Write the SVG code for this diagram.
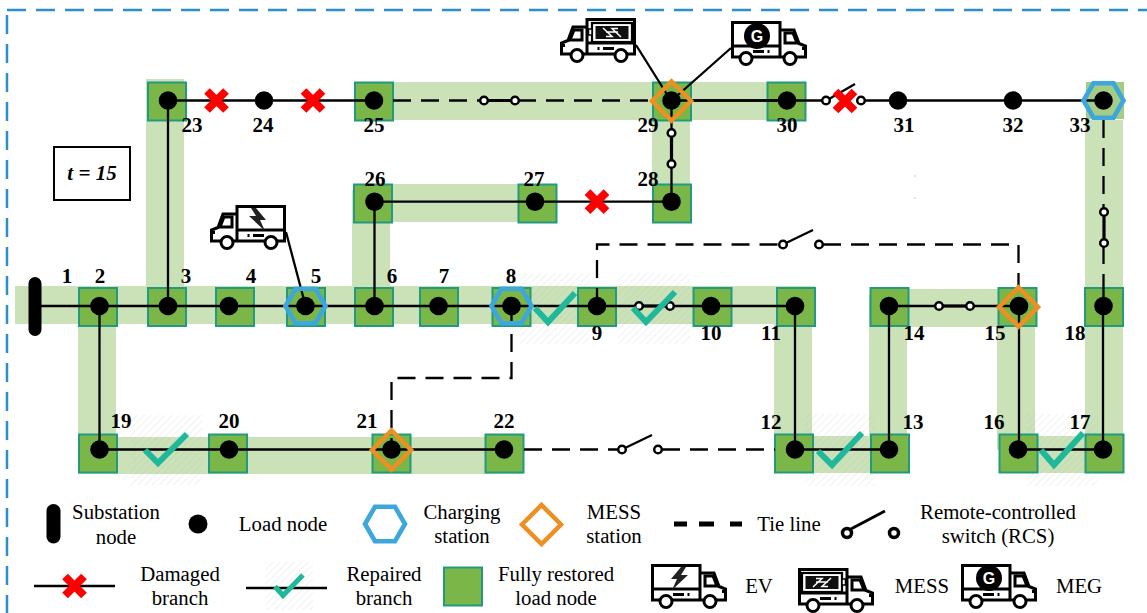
<svg xmlns="http://www.w3.org/2000/svg" width="1147" height="613" viewBox="0 0 1147 613">
<style>
.band{fill:#cbe2b8}
.sq{fill:#7ab648;stroke:#219a7f;stroke-width:2}
.dot{fill:#000}
.ln{fill:none;stroke:#000;stroke-width:2.3}
.thick{fill:none;stroke:#000;stroke-width:3.2}
.dash{fill:none;stroke:#000;stroke-width:2.3;stroke-dasharray:18 10}
.sw{fill:#fff;stroke:#000;stroke-width:2.5}
.hex{fill:none;stroke:#3ca7dd;stroke-width:4.6}
.dia{fill:none;stroke:#ee8f22;stroke-width:4.5}
.x{fill:none;stroke:#f00;stroke-width:8}
.ck{fill:none;stroke:#1fb89a;stroke-width:6}
.num{font:bold 21px "Liberation Serif",serif;text-anchor:middle;fill:#000}
.leg{font:20.8px "Liberation Serif",serif;text-anchor:middle;fill:#000}
.tk{fill:none;stroke:#000;stroke-width:3}
</style>
<defs>
<pattern id="hatch" width="5" height="5" patternUnits="userSpaceOnUse" patternTransform="rotate(45)"><rect width="5" height="5" fill="#fff" fill-opacity="0"/><line x1="0" y1="0" x2="0" y2="5" stroke="#a8a8a8" stroke-opacity=".22" stroke-width="1.5"/></pattern>
<g id="truck">
<rect x="1.5" y="1.5" width="47.5" height="34" fill="#fff" stroke="none"/>
<path class="tk" d="M1.5 25V1.5H49V36M1.5 25H49M1.5 25V36H9M21 36H53M65 36H74.5V25L68 22.5L63 9H49"/>
<path class="tk" d="M54 12V22H66L62 12Z"/>
<path class="tk" d="M22 30.5H33M36.5 30.5H38.5M71 27.5H75"/>
<circle class="tk" cx="15" cy="37.5" r="6" style="fill:#fff"/>
<circle class="tk" cx="59" cy="37.5" r="6" style="fill:#fff"/>
</g>
<path id="ev-icon" d="M30 3L20 15H26L21 26L37 11H30L35 3Z" fill="#222"/>
<g id="mess-icon">
<rect x="4" y="5" width="40" height="19" fill="#fff" stroke="#000" stroke-width="2.2"/>
<rect x="7.500" y="8" width="33" height="13" fill="#111"/>
<path d="M15 19L24 10.500H18M33 10L24 18.500H30M18 14H30" fill="none" stroke="#fff" stroke-width="1.5"/>
<rect x="44" y="11" width="3.5" height="6" fill="#fff" stroke="#000" stroke-width="1.5"/>
</g>
<path id="hexa" d="M-20 0L-10-17.200H10L20 0L10 17.200H-10Z"/>
<path id="diam" d="M-19.500 0L0-19.500L19.500 0L0 19.500Z"/>
<path id="cross" d="M-9.500-9.500L9.500 9.500M9.500-9.500L-9.500 9.500"/>
</defs>

<rect x="7" y="10" width="1300" height="800" fill="none" stroke="#2b8fc9" stroke-width="2.500" stroke-dasharray="19 10"/>

<g id="bands">
<rect class="band" x="15" y="286" width="800" height="38"/>
<rect class="band" x="146" y="79" width="38" height="220"/>
<rect class="band" x="352" y="190" width="38" height="100"/>
<rect class="band" x="353" y="184" width="204" height="38"/>
<rect class="band" x="355" y="82" width="450" height="38"/>
<rect class="band" x="652" y="100" width="38" height="110"/>
<rect class="band" x="78" y="310" width="38" height="140"/>
<rect class="band" x="78" y="437" width="446" height="37"/>
<rect class="band" x="774" y="310" width="38" height="140"/>
<rect class="band" x="775" y="436" width="134" height="37"/>
<rect class="band" x="869" y="295" width="38" height="150"/>
<rect class="band" x="880" y="289" width="150" height="38"/>
<rect class="band" x="997" y="310" width="38" height="140"/>
<rect class="band" x="999" y="436" width="125" height="37"/>
<rect class="band" x="1085" y="120" width="38" height="320"/>
</g>

<g id="hatching" fill="url(#hatch)">
<rect x="520" y="273" width="70" height="71"/>
<rect x="618" y="273" width="72" height="71"/>
<rect x="131" y="415" width="71" height="70"/>
<rect x="805" y="414" width="70" height="72"/>
<rect x="1027" y="414" width="70" height="72"/>
<rect x="265" y="562" width="48" height="48"/>
</g>

<g id="squares">
<rect class="sq" x="79" y="288" width="38" height="38"/>
<rect class="sq" x="148" y="288" width="38" height="38"/>
<rect class="sq" x="216" y="288" width="38" height="38"/>
<rect class="sq" x="287" y="288" width="38" height="38"/>
<rect class="sq" x="355" y="288" width="38" height="38"/>
<rect class="sq" x="420" y="288" width="38" height="38"/>
<rect class="sq" x="492.500" y="288" width="38" height="38"/>
<rect class="sq" x="578" y="288" width="38" height="38"/>
<rect class="sq" x="693.500" y="288" width="38" height="38"/>
<rect class="sq" x="777" y="288" width="38" height="38"/>
<rect class="sq" x="870.500" y="288" width="38" height="38"/>
<rect class="sq" x="998.500" y="288" width="38" height="38"/>
<rect class="sq" x="1085" y="288" width="38" height="38"/>
<rect class="sq" x="79" y="434.500" width="38" height="38"/>
<rect class="sq" x="209" y="434.500" width="38" height="38"/>
<rect class="sq" x="372.500" y="434.500" width="38" height="38"/>
<rect class="sq" x="485.500" y="434.500" width="38" height="38"/>
<rect class="sq" x="775" y="434.500" width="38" height="38"/>
<rect class="sq" x="871" y="434.500" width="38" height="38"/>
<rect class="sq" x="999.500" y="434.500" width="38" height="38"/>
<rect class="sq" x="1085.500" y="434.500" width="38" height="38"/>
<rect class="sq" x="148" y="82.500" width="38" height="38"/>
<rect class="sq" x="355" y="82.500" width="38" height="38"/>
<rect class="sq" x="653" y="82.500" width="38" height="38"/>
<rect class="sq" x="767.500" y="82.500" width="38" height="38"/>
<rect x="1086" y="82" width="38" height="37" fill="#a5cc85"/>
<rect class="sq" x="354" y="184.500" width="38" height="38"/>
<rect class="sq" x="518.500" y="184.500" width="38" height="38"/>
<rect class="sq" x="653" y="184.500" width="38" height="38"/>
</g>

<g id="connectors">
<path class="ln" d="M35 306H795V449.500H889V306M889 306H1019V449.500H1103V306M99.500 306V449.500H504"/>
<path class="ln" d="M168 306V100.500H374M374.500 306V201.700H671.500V100.500"/>
<path class="ln" d="M691 100.500H826M861 100.500H1103"/>
<path class="ln" d="M671 100.500H786"/>
<path class="thick" d="M639 306H670M939 306H970M671.500 133V164"/>
<path class="thick" d="M484 100.500H515M1104 212V243"/>
<path class="dash" d="M393 100.500H481M518 100.500H652"/>
<path class="dash" d="M597 306V244.500H783M823 244.500H1018.500V288"/>
<path class="dash" d="M511.500 306V378H391.500V449"/>
<path class="dash" d="M524 449.500H619M662 449.500H775"/>
<path class="dash" d="M1103.500 120V209M1103.500 246V288"/>
<path class="ln" d="M1103.500 288V306"/>
<path class="ln" d="M286 232L304 300M636 45L668 96M731 48L678 95"/>
<path class="ln" d="M786 243L813 230M625 448L652 435M829 99L855 84"/>
</g>

<g id="switches">
<circle class="sw" cx="484" cy="100.500" r="3.800"/><circle class="sw" cx="515" cy="100.500" r="3.800"/>
<circle class="sw" cx="671.500" cy="133" r="3.800"/><circle class="sw" cx="671.500" cy="164" r="3.800"/>
<circle class="sw" cx="826" cy="100.500" r="3.800"/><circle class="sw" cx="861" cy="100.500" r="3.800"/>
<circle class="sw" cx="783" cy="244.500" r="3.800"/><circle class="sw" cx="819" cy="244.500" r="3.800"/>
<circle class="sw" cx="639" cy="306" r="3.800"/><circle class="sw" cx="670" cy="306" r="3.800"/>
<circle class="sw" cx="939" cy="306" r="3.800"/><circle class="sw" cx="970" cy="306" r="3.800"/>
<circle class="sw" cx="1104" cy="212" r="3.800"/><circle class="sw" cx="1104" cy="243" r="3.800"/>
<circle class="sw" cx="622" cy="449.500" r="3.800"/><circle class="sw" cx="658" cy="449.500" r="3.800"/>
</g>

<g id="damage">
<use href="#cross" class="x" x="216.500" y="100.500"/>
<use href="#cross" class="x" x="313" y="100.500"/>
<use href="#cross" class="x" x="845" y="101"/>
<use href="#cross" class="x" x="597" y="201.700"/>
</g>

<g id="repairs">
<path class="ck" d="M535 308L548 322L575 293"/>
<path class="ck" d="M633 308L646 322L675 292"/>
<path class="ck" d="M145 450L158 463L187 434"/>
<path class="ck" d="M818 451L832 465L862 433"/>
<path class="ck" d="M1041 450L1054 465L1083 433"/>
</g>

<g id="substation"><rect x="28.500" y="277" width="13" height="59" rx="6.500" class="dot"/><text class="num" x="67" y="283">1</text></g>
<g id="n2"><circle class="dot" cx="99.500" cy="306" r="9.300"/><text class="num" x="100" y="283">2</text></g>
<g id="n3"><circle class="dot" cx="168" cy="306" r="9.300"/><text class="num" x="186" y="283">3</text></g>
<g id="n4"><circle class="dot" cx="229" cy="306" r="9.300"/><text class="num" x="251" y="283">4</text></g>
<g id="n5"><use href="#hexa" class="hex" x="305.500" y="306"/><circle class="dot" cx="305.500" cy="306" r="9.300"/><text class="num" x="316" y="283">5</text></g>
<g id="n6"><circle class="dot" cx="374.500" cy="306" r="9.300"/><text class="num" x="392" y="283">6</text></g>
<g id="n7"><circle class="dot" cx="438.500" cy="306" r="9.300"/><text class="num" x="444" y="283">7</text></g>
<g id="n8"><use href="#hexa" class="hex" x="511.500" y="306"/><circle class="dot" cx="511.500" cy="306" r="9.300"/><text class="num" x="511" y="283">8</text></g>
<g id="n9"><circle class="dot" cx="597" cy="306" r="9.300"/><text class="num" x="597" y="340">9</text></g>
<g id="n10"><circle class="dot" cx="711" cy="306" r="9.300"/><text class="num" x="711" y="340">10</text></g>
<g id="n11"><circle class="dot" cx="795" cy="306" r="9.300"/><text class="num" x="771" y="340">11</text></g>
<g id="n12"><circle class="dot" cx="795" cy="449.500" r="9.300"/><text class="num" x="771" y="429">12</text></g>
<g id="n13"><circle class="dot" cx="889" cy="449.500" r="9.300"/><text class="num" x="913" y="429">13</text></g>
<g id="n14"><circle class="dot" cx="889" cy="306" r="9.300"/><text class="num" x="914" y="340">14</text></g>
<g id="n15"><circle class="dot" cx="1019" cy="306" r="9.300"/><use href="#diam" class="dia" x="1018.500" y="307"/><text class="num" x="995" y="340">15</text></g>
<g id="n16"><circle class="dot" cx="1018" cy="449.500" r="9.300"/><text class="num" x="994" y="429">16</text></g>
<g id="n17"><circle class="dot" cx="1103" cy="449.500" r="9.300"/><text class="num" x="1080" y="429">17</text></g>
<g id="n18"><circle class="dot" cx="1103.500" cy="306" r="9.300"/><text class="num" x="1075" y="340">18</text></g>
<g id="n19"><circle class="dot" cx="99.500" cy="449.500" r="9.300"/><text class="num" x="121" y="428">19</text></g>
<g id="n20"><circle class="dot" cx="229" cy="449.500" r="9.300"/><text class="num" x="229" y="428">20</text></g>
<g id="n21"><circle class="dot" cx="391.500" cy="449.500" r="9.300"/><use href="#diam" class="dia" x="391.500" y="450"/><text class="num" x="367" y="428">21</text></g>
<g id="n22"><circle class="dot" cx="504" cy="449.500" r="9.300"/><text class="num" x="504" y="428">22</text></g>
<g id="n23"><circle class="dot" cx="168" cy="100.500" r="9.300"/><text class="num" x="192" y="132">23</text></g>
<g id="n24"><circle class="dot" cx="264" cy="100.500" r="9.300"/><text class="num" x="263" y="132">24</text></g>
<g id="n25"><circle class="dot" cx="374" cy="100.500" r="9.300"/><text class="num" x="374" y="132">25</text></g>
<g id="n26"><circle class="dot" cx="374.500" cy="201.700" r="9.300"/><text class="num" x="375" y="186">26</text></g>
<g id="n27"><circle class="dot" cx="535" cy="201.700" r="9.300"/><text class="num" x="534" y="186">27</text></g>
<g id="n28"><circle class="dot" cx="671.500" cy="201.700" r="9.300"/><text class="num" x="648" y="186">28</text></g>
<g id="n29"><circle class="dot" cx="671.500" cy="100.500" r="9.300"/><use href="#diam" class="dia" x="671.500" y="101"/><text class="num" x="648" y="132">29</text></g>
<g id="n30"><circle class="dot" cx="787" cy="100.500" r="9.300"/><text class="num" x="787" y="132">30</text></g>
<g id="n31"><circle class="dot" cx="898" cy="100.500" r="9.300"/><text class="num" x="904" y="132">31</text></g>
<g id="n32"><circle class="dot" cx="1013" cy="100.500" r="9.300"/><text class="num" x="1013" y="132">32</text></g>
<g id="n33"><use href="#hexa" class="hex" x="1103.500" y="100.500"/><circle class="dot" cx="1103.500" cy="100.500" r="9.300"/><text class="num" x="1080" y="132">33</text></g>

<g id="ev-map" transform="translate(286,205) scale(-1,1)"><use href="#truck"/><use href="#ev-icon"/></g>
<g id="mess-map" transform="translate(636,18) scale(-1,1)"><use href="#truck"/><use href="#mess-icon"/></g>
<g id="meg-map" transform="translate(731,21)"><use href="#truck"/><circle cx="26" cy="15" r="13" fill="#000"/><text x="26" y="21" text-anchor="middle" style="font:bold 16px 'Liberation Sans',sans-serif" fill="#fff">G</text></g>

<g id="time-box"><rect x="54" y="147" width="76" height="53" fill="#fff" stroke="#000" stroke-width="2"/><text x="92" y="180" text-anchor="middle" style="font:italic bold 21px 'Liberation Serif',serif">t = 15</text></g>
<rect x="914.500" y="175.500" width="1" height="1" fill="#999"/><rect x="914.500" y="197.500" width="1" height="1" fill="#999"/>

<g id="legend">
<rect x="46.500" y="504" width="14" height="39.500" rx="7" class="dot"/>
<text class="leg" x="116" y="519">Substation</text><text class="leg" x="116" y="544">node</text>
<circle class="dot" cx="198" cy="524" r="9.500"/>
<text class="leg" x="283" y="531">Load node</text>
<use href="#hexa" class="hex" x="385" y="524"/>
<text class="leg" x="462" y="519">Charging</text><text class="leg" x="462" y="543">station</text>
<use href="#diam" class="dia" transform="translate(541.500,524.500)"/>
<text class="leg" x="614" y="519">MESS</text><text class="leg" x="614" y="543">station</text>
<path d="M674 524H687M699 524H714M730 524H742" fill="none" stroke="#000" stroke-width="5"/>
<text class="leg" x="789" y="531">Tie line</text>
<path d="M849 530L885 511" fill="none" stroke="#000" stroke-width="3"/>
<circle cx="847" cy="533" r="4.500" fill="#fff" stroke="#000" stroke-width="3.500"/><circle cx="894" cy="533" r="4.500" fill="#fff" stroke="#000" stroke-width="3.500"/>
<text class="leg" x="998" y="519">Remote-controlled</text><text class="leg" x="998" y="543">switch (RCS)</text>
<path class="ln" d="M34 586H115"/>
<use href="#cross" class="x" x="74.500" y="586"/>
<text class="leg" x="180" y="581">Damaged</text><text class="leg" x="180" y="605">branch</text>
<path class="ln" d="M246 588H327"/>
<path d="M275 586.500L283 595.500L303 575" fill="none" stroke="#1fb89a" stroke-width="5"/>
<text class="leg" x="384" y="581">Repaired</text><text class="leg" x="384" y="605">branch</text>
<rect class="sq" x="444" y="567.500" width="38" height="38"/>
<text class="leg" x="556" y="581">Fully restored</text><text class="leg" x="556" y="605">load node</text>
<g transform="translate(651,564)"><use href="#truck"/><use href="#ev-icon"/></g>
<text class="leg" x="759" y="593">EV</text>
<g transform="translate(798,568)"><use href="#truck"/><use href="#mess-icon"/></g>
<text class="leg" x="922" y="593">MESS</text>
<g transform="translate(961,564)"><use href="#truck"/><circle cx="28" cy="14" r="13" fill="#000"/><text x="28" y="20" text-anchor="middle" style="font:bold 16px 'Liberation Sans',sans-serif" fill="#fff">G</text></g>
<text class="leg" x="1079" y="593">MEG</text>
</g>
</svg>
